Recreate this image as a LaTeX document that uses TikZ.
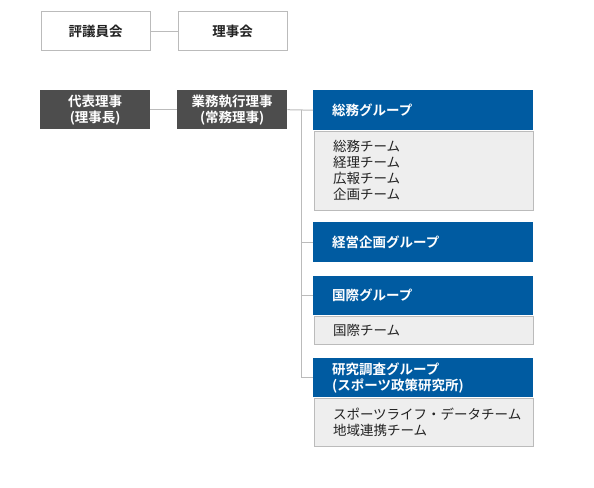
\documentclass[tikz,border=0pt]{standalone}
\usepackage{fontspec}
\setmainfont{Noto Sans CJK JP}[BoldFont={Noto Sans CJK JP Bold}]
\definecolor{bluehd}{HTML}{005BA1}
\definecolor{darkbx}{HTML}{4D4D4D}
\definecolor{bodybg}{HTML}{EEEEEE}
\definecolor{edgec}{HTML}{BBBBBB}
\definecolor{txt}{HTML}{222222}
\begin{document}
\begin{tikzpicture}[x=1pt,y=-1pt,
  every node/.style={font=\fontsize{13.5pt}{16pt}\selectfont},
  wbox/.style={draw=edgec,fill=white,line width=1pt,minimum width=109pt,minimum height=39pt,anchor=north west,text=txt,inner sep=0pt,font=\fontsize{13.5pt}{16pt}\selectfont\bfseries},
  dbox/.style={fill=darkbx,minimum width=110pt,minimum height=39pt,anchor=north west,text=white,align=center,inner sep=0pt,font=\fontsize{13.5pt}{16pt}\selectfont\bfseries},
  hbox/.style={fill=bluehd,minimum width=220pt,minimum height=40pt,anchor=north west,text=white,text width=182pt,align=left,inner xsep=19pt,inner ysep=0pt,font=\fontsize{13.5pt}{16pt}\selectfont\bfseries},
  bbox/.style={draw=edgec,fill=bodybg,line width=1pt,minimum width=219pt,anchor=north west,text=txt,text width=181pt,align=left,inner xsep=19pt,inner ysep=0pt},
  conn/.style={draw=edgec,line width=1pt}]
\useasboundingbox (0,0) rectangle (594,487);
\node[wbox] (hyo) at (40.5,11.5) {評議員会};
\node[wbox] (rij) at (177.5,11.5) {理事会};
\node[dbox] (dai) at (40,90) {代表理事\\(理事長)};
\node[dbox] (gyo) at (177,90) {業務執行理事\\(常務理事)};
\node[hbox] (soh) at (313,90) {総務グループ};
\node[bbox,minimum height=79pt] (sob) at (313.5,130.5) {総務チーム\\経理チーム\\広報チーム\\企画チーム};
\node[hbox] (kei) at (313,222) {経営企画グループ};
\node[hbox,minimum height=39pt] (kok) at (313,276) {国際グループ};
\node[bbox,minimum height=28pt] (kob) at (313.5,315.5) {国際チーム};
\node[hbox,minimum height=39pt] (ken) at (313,358) {研究調査グループ\\(スポーツ政策研究所)};
\node[bbox,minimum height=48pt] (keb) at (313.5,397.5) {スポーツライフ・データチーム\\地域連携チーム};
\coordinate (tr) at (301,110);
\draw[conn] (hyo.east) -- (rij.west);
\draw[conn] (dai.east) -- (gyo.west);
\draw[conn] (gyo.east) -- (soh.west);
\draw[conn] (tr) -- (tr |- ken.west) -- (ken.west);
\draw[conn] (tr |- kei.west) -- (kei.west);
\draw[conn] (tr |- kok.west) -- (kok.west);
\end{tikzpicture}
\end{document}
